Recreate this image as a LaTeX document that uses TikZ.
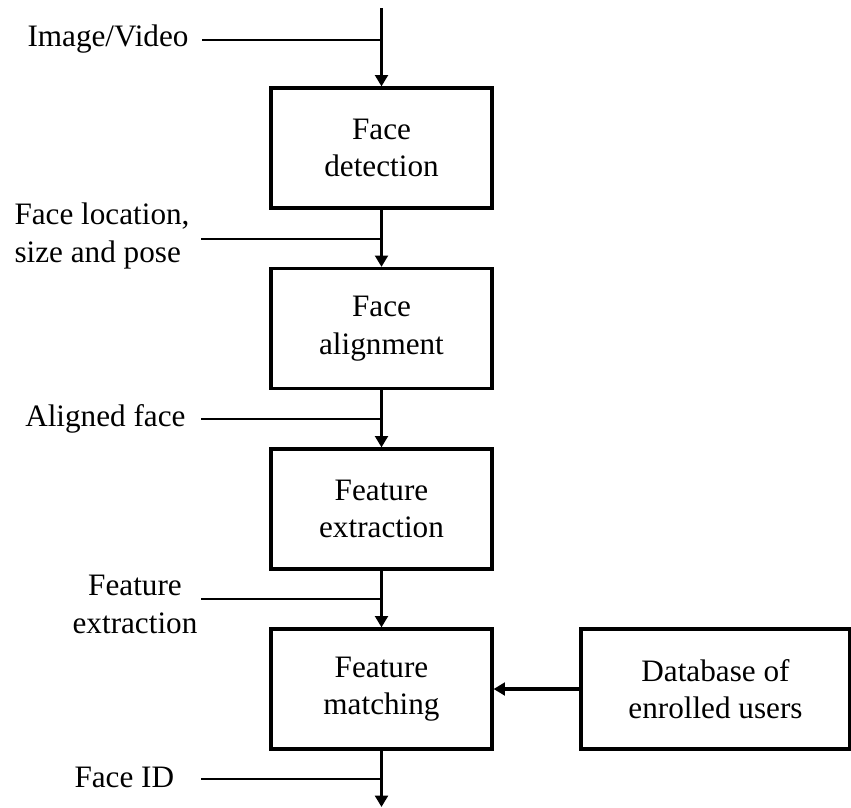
\documentclass[tikz,border=0pt]{standalone}
\usepackage{fontspec}
\setmainfont{Liberation Serif}
\usetikzlibrary{arrows.meta}

\tikzset{every picture/.style={line width=0.75pt}}
\tikzset{
  stage/.style={draw, line width=2.4pt, minimum width=165.75pt, minimum height=90pt,
    align=center, inner sep=0pt, font=\fontsize{23.4}{28}\selectfont},
  tag/.style={inner sep=0pt, font=\fontsize{23.4}{28}\selectfont},
  flow/.style={line width=2.6pt, -{Triangle[length=8.5pt,width=9.5pt]}},
  tagline/.style={line width=1.2pt}
}

\begin{document}
\begin{tikzpicture}[x=0.75pt,y=0.75pt,yscale=-1,xscale=1]
    \useasboundingbox (0,0) rectangle (851,808);

    %Shape: Rectangle [stages]
    \node[stage] (detect) at (381.5,148) {Face\\detection};
    \node[stage] (align) at (381.5,328.5) {Face\\alignment};
    \node[stage] (extract) at (381.5,509) {Feature\\extraction};
    \node[stage] (match) at (381.5,689) {Feature\\matching};
    \node[stage, minimum width=201.75pt] (db) at (715.5,689) {Database of\\enrolled users};

    %Straight Lines [main flow]
    \coordinate (src) at (381.5,8);
    \coordinate (sink) at (381.5,807);
    \draw[flow] (src) -- (detect);
    \draw[flow] (detect) -- (align);
    \draw[flow] (align) -- (extract);
    \draw[flow] (extract) -- (match);
    \draw[flow] (match) -- (sink);
    \draw[flow] (db) -- (match);

    %Straight Lines [taps]
    \coordinate (imgA) at (202,40);   \coordinate (imgB) at (381.5,40);
    \coordinate (locA) at (201,239);  \coordinate (locB) at (381.5,239);
    \coordinate (aliA) at (201,419);  \coordinate (aliB) at (381.5,419);
    \coordinate (feaA) at (201,599);  \coordinate (feaB) at (381.5,599);
    \coordinate (idA) at (201,779);   \coordinate (idB) at (381.5,779);
    \draw[tagline] (imgA) -- (imgB);
    \draw[tagline] (locA) -- (locB);
    \draw[tagline] (aliA) -- (aliB);
    \draw[tagline] (feaA) -- (feaB);
    \draw[tagline] (idA) -- (idB);

    % Text Node
    \node[tag, anchor=base east] (img) at (189,46) {Image/Video};
    % Text Node
    \node[tag, anchor=base west, align=left] (loc) at (14,262) {Face location,\\size and pose};
    % Text Node
    \node[tag, anchor=base east] (ali) at (186,426) {Aligned face};
    % Text Node
    \node[tag, anchor=base, align=center] (fea) at (135,633) {Feature\\extraction};
    % Text Node
    \node[tag, anchor=base west] (fid) at (74,787) {Face ID};
\end{tikzpicture}
\end{document}
